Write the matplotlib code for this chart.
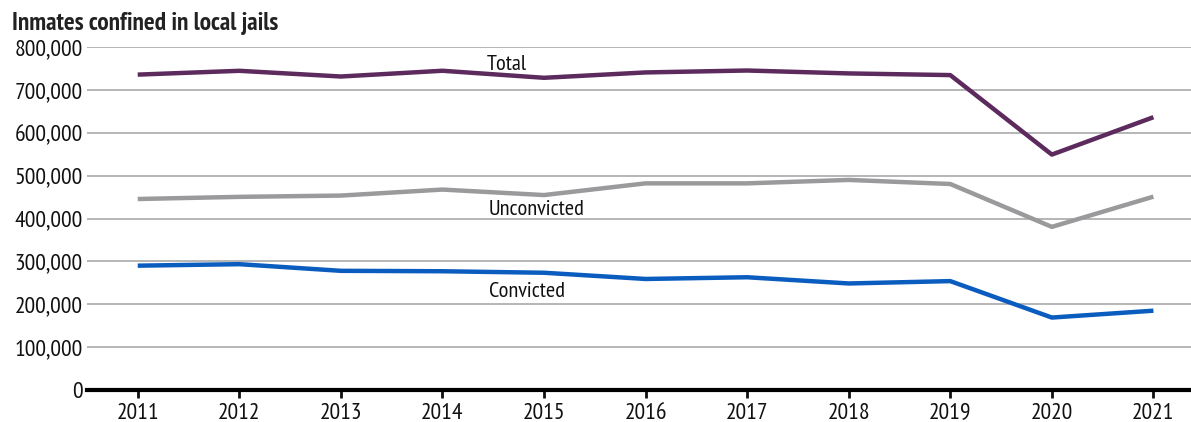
import matplotlib
matplotlib.use("Agg")
import matplotlib.pyplot as plt
from matplotlib import font_manager
from matplotlib.ticker import FuncFormatter

names = {f.name for f in font_manager.fontManager.ttflist}
candidates = ["PT Sans Narrow", "Fira Sans Condensed", "Roboto Condensed", "Archivo Narrow",
              "Liberation Sans Narrow", "IBM Plex Sans Condensed", "Encode Sans Condensed"]
fam = next((c for c in candidates if c in names), "DejaVu Sans")
plt.rcParams['font.family'] = [fam, 'DejaVu Sans']

years = [2011, 2012, 2013, 2014, 2015, 2016, 2017, 2018, 2019, 2020, 2021]
total = [735600, 744500, 731200, 744600, 728200, 740700, 745200, 738400, 734500, 549100, 636300]
unconvicted = [445500, 450500, 453500, 467500, 454700, 482000, 482000, 490000, 480500, 380500, 451000]
convicted = [290000, 293500, 278000, 277000, 273500, 259000, 263000, 248500, 254000, 169000, 185000]

fig = plt.figure(figsize=(11.91, 4.22), dpi=100)
ax = fig.add_axes([0.073, 0.0758, 0.927, 0.8128])

ax.plot(years, total, color="#5c2a5c", lw=3.2, solid_capstyle='butt', zorder=3)
ax.plot(years, unconvicted, color="#9a9a9c", lw=3.2, solid_capstyle='butt', zorder=3)
ax.plot(years, convicted, color="#0a5cbe", lw=3.2, solid_capstyle='butt', zorder=3)

fs = 17
ax.text(2014.63, 760000, "Total", fontsize=fs*0.95, ha='center', va='center', color='#111111')
ax.text(2014.93, 420000, "Unconvicted", fontsize=fs*0.95, ha='center', va='center', color='#111111')
ax.text(2014.83, 230000, "Convicted", fontsize=fs*0.95, ha='center', va='center', color='#111111')

ax.set_xlim(2010.5, 2021.37)
ax.set_ylim(0, 800000)
ax.set_yticks(range(0, 800001, 100000))
ax.set_xticks(years)
ax.yaxis.set_major_formatter(FuncFormatter(lambda v, p: f"{int(v):,}"))
ax.grid(axis='y', color="#b0b0b0", lw=1.3)
ax.set_axisbelow(True)
for s in ['top', 'right', 'left']:
    ax.spines[s].set_visible(False)
ax.spines['bottom'].set_linewidth(3)
ax.spines['bottom'].set_zorder(4)
ax.tick_params(axis='y', length=0, labelsize=fs, pad=3, colors='#111111')
ax.tick_params(axis='x', length=6, width=2, labelsize=fs, pad=3, colors='#111111')

fig.text(0.010, 0.945, "Inmates confined in local jails", fontsize=18.3, fontweight='bold', color='#222222', ha='left', va='center')

fig.savefig("out.png", dpi=100)
